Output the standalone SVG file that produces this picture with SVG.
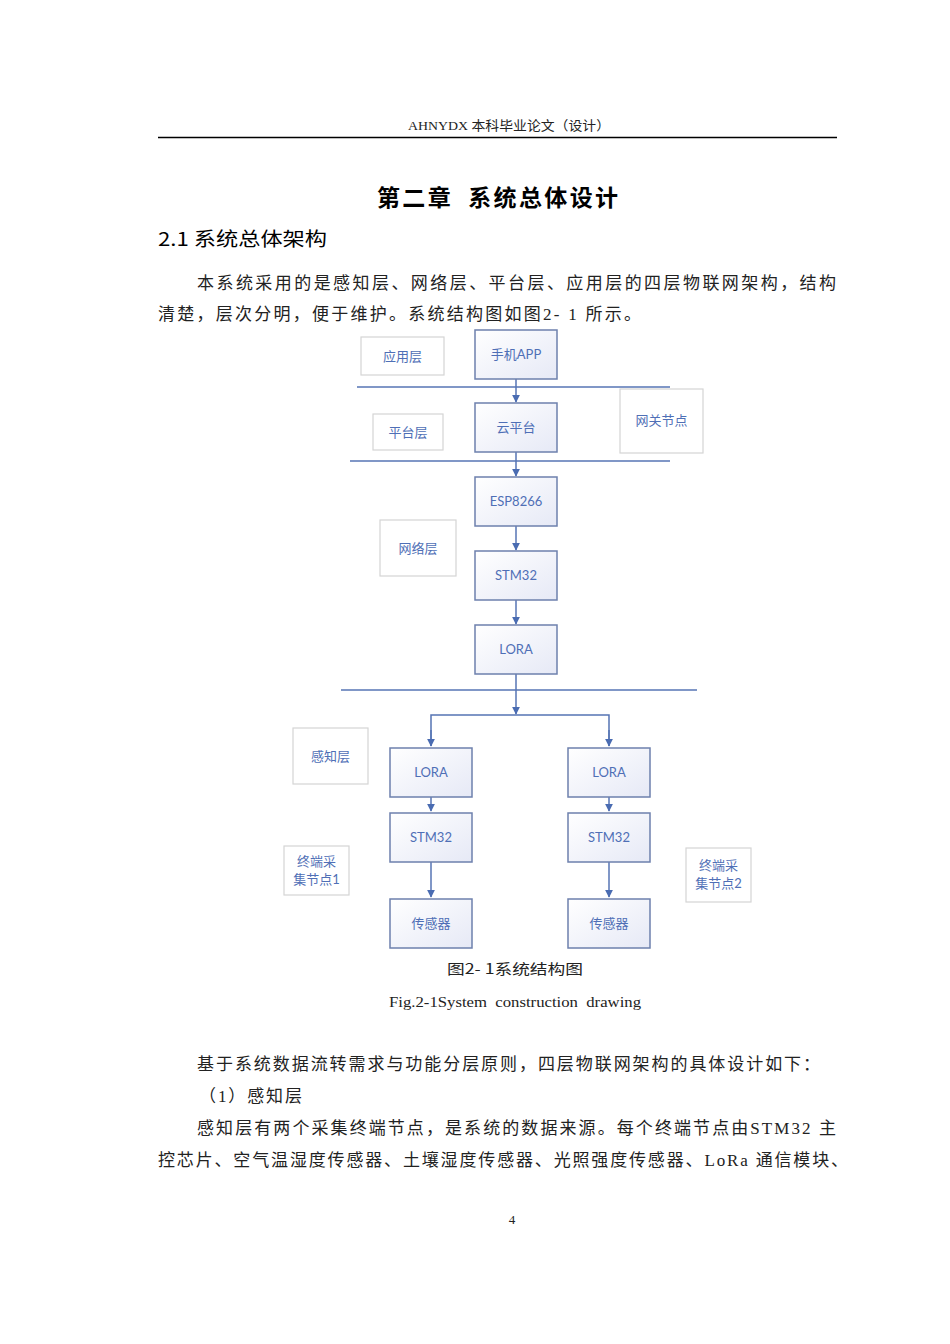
<svg xmlns="http://www.w3.org/2000/svg" width="950" height="1344" viewBox="0 0 950 1344">
<defs>
<linearGradient id="g" x1="0" y1="0" x2="1" y2="1">
<stop offset="0" stop-color="#ffffff"/>
<stop offset="1" stop-color="#e6e9f6"/>
</linearGradient>
<marker id="ar" viewBox="0 0 10 10" refX="9" refY="5" markerWidth="8" markerHeight="8" markerUnits="userSpaceOnUse" orient="auto">
<path d="M0,0 L10,5 L0,10 z" fill="#4a6cb2"/>
</marker>
</defs>
<style>
.body{font-family:"Liberation Serif","Noto Sans CJK SC",serif;font-size:17px;fill:#222}
.node{fill:url(#g);stroke:#6d80ad;stroke-width:1.5}
.lab{fill:#fff;stroke:#d4d4d4;stroke-width:1.2}
.t{font-family:"Lato","Noto Sans CJK SC",sans-serif;font-size:13px;fill:#4f6fb6;text-anchor:middle}
.c{fill:none;stroke:#5674b4;stroke-width:1.5}
.cap{font-family:"Liberation Serif","Noto Sans CJK SC",serif;font-size:15px;fill:#222;text-anchor:middle}
</style>
<rect width="950" height="1344" fill="#fff"/>
<text x="509" y="130" class="cap" style="font-size:13px" textLength="202" lengthAdjust="spacingAndGlyphs">AHNYDX 本科毕业论文（设计）</text>
<line x1="158" y1="137.5" x2="837" y2="137.5" stroke="#000" stroke-width="1.5"/>
<text x="377" y="206" font-family="'Noto Sans CJK SC',sans-serif" font-size="23" font-weight="bold" fill="#000" xml:space="preserve" textLength="241" lengthAdjust="spacing">第二章  系统总体设计</text>
<text x="158" y="246" font-family="'Noto Sans CJK SC',sans-serif" font-size="19" fill="#000" textLength="169" lengthAdjust="spacingAndGlyphs">2.1 系统总体架构</text>
<text x="197" y="289" class="body" textLength="639" lengthAdjust="spacing">本系统采用的是感知层、网络层、平台层、应用层的四层物联网架构，结构</text>
<text x="158" y="320" class="body" textLength="483" lengthAdjust="spacing">清楚，层次分明，便于维护。系统结构图如图2- 1 所示。</text>

<g id="connectors">
<line class="c" x1="357" y1="387" x2="670" y2="387"/>
<line class="c" x1="350" y1="461" x2="670" y2="461"/>
<line class="c" x1="341" y1="690" x2="697" y2="690"/>
<line class="c" x1="516" y1="379" x2="516" y2="402" marker-end="url(#ar)"/>
<line class="c" x1="516" y1="452" x2="516" y2="476" marker-end="url(#ar)"/>
<line class="c" x1="516" y1="526" x2="516" y2="550" marker-end="url(#ar)"/>
<line class="c" x1="516" y1="600" x2="516" y2="624" marker-end="url(#ar)"/>
<line class="c" x1="516" y1="674" x2="516" y2="714" marker-end="url(#ar)"/>
<polyline class="c" points="431,746 431,715 609,715 609,746"/>
<line class="c" x1="431" y1="730" x2="431" y2="746" marker-end="url(#ar)"/>
<line class="c" x1="609" y1="730" x2="609" y2="746" marker-end="url(#ar)"/>
<line class="c" x1="431" y1="797" x2="431" y2="811" marker-end="url(#ar)"/>
<line class="c" x1="609" y1="797" x2="609" y2="811" marker-end="url(#ar)"/>
<line class="c" x1="431" y1="862" x2="431" y2="897" marker-end="url(#ar)"/>
<line class="c" x1="609" y1="862" x2="609" y2="897" marker-end="url(#ar)"/>
</g>

<g id="n-app-layer"><rect class="lab" x="361" y="337" width="83" height="38"/><text class="t" x="402.5" y="361">应用层</text></g>
<g id="n-phone"><rect class="node" x="475" y="330" width="82" height="49"/><text class="t" x="516" y="359">手机APP</text></g>
<g id="n-platform-layer"><rect class="lab" x="373" y="414" width="70" height="36"/><text class="t" x="408" y="437">平台层</text></g>
<g id="n-cloud"><rect class="node" x="475" y="403" width="82" height="49"/><text class="t" x="516" y="432">云平台</text></g>
<g id="n-gateway"><rect class="lab" x="620" y="389" width="83" height="64"/><text class="t" x="661.5" y="425">网关节点</text></g>
<g id="n-esp"><rect class="node" x="475" y="477" width="82" height="49"/><text class="t" x="516" y="506">ESP8266</text></g>
<g id="n-net-layer"><rect class="lab" x="380" y="520" width="76" height="56"/><text class="t" x="418" y="553">网络层</text></g>
<g id="n-stm32"><rect class="node" x="475" y="551" width="82" height="49"/><text class="t" x="516" y="580">STM32</text></g>
<g id="n-lora"><rect class="node" x="475" y="625" width="82" height="49"/><text class="t" x="516" y="654">LORA</text></g>
<g id="n-sense-layer"><rect class="lab" x="293" y="728" width="75" height="56"/><text class="t" x="330.5" y="761">感知层</text></g>
<g id="n-lora1"><rect class="node" x="390" y="748" width="82" height="49"/><text class="t" x="431" y="777">LORA</text></g>
<g id="n-lora2"><rect class="node" x="568" y="748" width="82" height="49"/><text class="t" x="609" y="777">LORA</text></g>
<g id="n-stm1"><rect class="node" x="390" y="813" width="82" height="49"/><text class="t" x="431" y="842">STM32</text></g>
<g id="n-stm2"><rect class="node" x="568" y="813" width="82" height="49"/><text class="t" x="609" y="842">STM32</text></g>
<g id="n-sensor1"><rect class="node" x="390" y="899" width="82" height="49"/><text class="t" x="431" y="928">传感器</text></g>
<g id="n-sensor2"><rect class="node" x="568" y="899" width="82" height="49"/><text class="t" x="609" y="928">传感器</text></g>
<g id="n-term1"><rect class="lab" x="284" y="846" width="65" height="49"/><text class="t" x="316.5" y="866">终端采</text><text class="t" x="316.5" y="884">集节点1</text></g>
<g id="n-term2"><rect class="lab" x="686" y="848" width="65" height="54"/><text class="t" x="718.5" y="870">终端采</text><text class="t" x="718.5" y="888">集节点2</text></g>

<text class="cap" x="515" y="974" style="font-family:'Noto Sans CJK SC',sans-serif;font-size:14px" textLength="136" lengthAdjust="spacingAndGlyphs">图2- 1系统结构图</text>
<text class="cap" x="515" y="1007" xml:space="preserve" textLength="252" lengthAdjust="spacingAndGlyphs">Fig.2-1System  construction  drawing</text>

<text x="197" y="1070" class="body" textLength="623" lengthAdjust="spacing">基于系统数据流转需求与功能分层原则，四层物联网架构的具体设计如下：</text>
<text x="199" y="1102" class="body" textLength="103" lengthAdjust="spacing">（1）感知层</text>
<text x="197" y="1134" class="body" textLength="639" lengthAdjust="spacing">感知层有两个采集终端节点，是系统的数据来源。每个终端节点由STM32 主</text>
<text x="158" y="1166" class="body" textLength="690" lengthAdjust="spacing">控芯片、空气温湿度传感器、土壤湿度传感器、光照强度传感器、LoRa 通信模块、</text>
<text x="512" y="1224" class="cap" style="font-size:13px">4</text>
</svg>
